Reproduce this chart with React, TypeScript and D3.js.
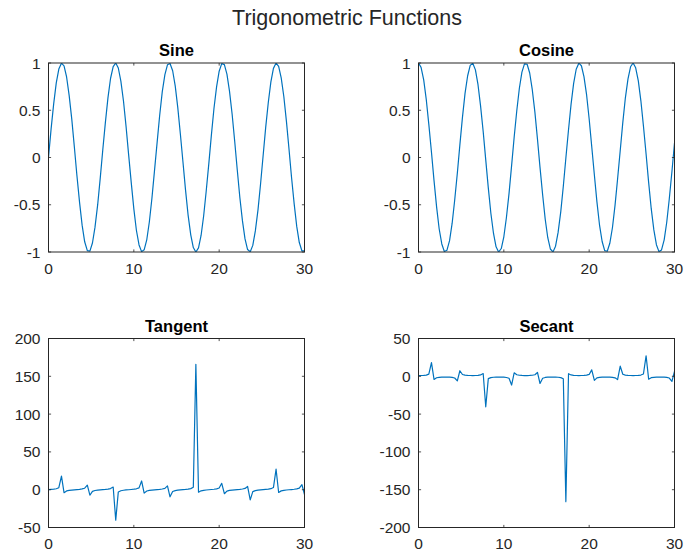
import React from "react";
import * as d3 from "d3";

const xValues = [
  0, 0.30, 0.61, 0.91, 1.21, 1.52, 1.82, 2.12, 2.42, 2.73,
  3.03, 3.33, 3.64, 3.94, 4.24, 4.55, 4.85, 5.15, 5.45, 5.76,
  6.06, 6.36, 6.67, 6.97, 7.27, 7.58, 7.88, 8.18, 8.48, 8.79,
  9.09, 9.39, 9.70, 10.00, 10.30, 10.61, 10.91, 11.21, 11.52, 11.82,
  12.12, 12.42, 12.73, 13.03, 13.33, 13.64, 13.94, 14.24, 14.55, 14.85,
  15.15, 15.45, 15.76, 16.06, 16.36, 16.67, 16.97, 17.27, 17.58, 17.88,
  18.18, 18.48, 18.79, 19.09, 19.39, 19.70, 20.00, 20.30, 20.61, 20.91,
  21.21, 21.52, 21.82, 22.12, 22.42, 22.73, 23.03, 23.33, 23.64, 23.94,
  24.24, 24.55, 24.85, 25.15, 25.45, 25.76, 26.06, 26.36, 26.67, 26.97,
  27.27, 27.58, 27.88, 28.18, 28.48, 28.79, 29.09, 29.39, 29.70, 30.00,
];

const sineValues = [
  0, 0.298, 0.570, 0.789, 0.936, 0.998, 0.970, 0.852, 0.657, 0.403,
  0.111, -0.191, -0.475, -0.716, -0.892, -0.986, -0.991, -0.905, -0.737, -0.502,
  -0.221, 0.080, 0.374, 0.634, 0.836, 0.962, 1.000, 0.947, 0.808, 0.595,
  0.328, 0.031, -0.269, -0.544, -0.770, -0.925, -0.996, -0.977, -0.868, -0.680,
  -0.431, -0.142, 0.160, 0.447, 0.694, 0.877, 0.981, 0.994, 0.918, 0.758,
  0.528, 0.251, -0.050, -0.345, -0.610, -0.818, -0.953, -1.000, -0.956, -0.825,
  -0.619, -0.357, -0.062, 0.239, 0.518, 0.750, 0.913, 0.993, 0.983, 0.883,
  0.703, 0.458, 0.172, -0.130, -0.420, -0.671, -0.862, -0.974, -0.997, -0.930,
  -0.777, -0.554, -0.280, 0.019, 0.316, 0.585, 0.800, 0.943, 0.999, 0.965,
  0.842, 0.643, 0.385, 0.092, -0.209, -0.491, -0.729, -0.900, -0.989, -0.988,
];

const cosineValues = [
  1.000, 0.954, 0.822, 0.614, 0.351, 0.056, -0.245, -0.523, -0.754, -0.915,
  -0.994, -0.982, -0.880, -0.698, -0.453, -0.166, 0.136, 0.425, 0.676, 0.865,
  0.975, 0.997, 0.927, 0.773, 0.549, 0.275, -0.025, -0.322, -0.590, -0.804,
  -0.945, -1.000, -0.963, -0.839, -0.638, -0.380, -0.086, 0.215, 0.497, 0.733,
  0.903, 0.990, 0.987, 0.894, 0.720, 0.480, 0.196, -0.105, -0.397, -0.653,
  -0.849, -0.968, -0.999, -0.938, -0.793, -0.575, -0.304, -0.006, 0.293, 0.565,
  0.785, 0.934, 0.998, 0.971, 0.855, 0.662, 0.408, 0.117, -0.185, -0.470,
  -0.712, -0.889, -0.985, -0.992, -0.908, -0.741, -0.507, -0.227, 0.074, 0.369,
  0.629, 0.832, 0.960, 1.000, 0.949, 0.811, 0.600, 0.333, 0.037, -0.263,
  -0.539, -0.766, -0.923, -0.996, -0.978, -0.871, -0.685, -0.436, -0.148, 0.154,
];

const tangentValues = [
  0, 0.31, 0.69, 1.28, 2.67, 17.95, -3.96, -1.63, -0.87, -0.44,
  -0.11, 0.19, 0.54, 1.03, 1.97, 5.93, -7.30, -2.13, -1.09, -0.58,
  -0.23, 0.08, 0.40, 0.82, 1.52, 3.50, -40.31, -2.94, -1.37, -0.74,
  -0.35, -0.03, 0.28, 0.65, 1.21, 2.44, 11.53, -4.55, -1.75, -0.93,
  -0.48, -0.14, 0.16, 0.50, 0.96, 1.83, 4.99, -9.47, -2.31, -1.16,
  -0.62, -0.26, 0.05, 0.37, 0.77, 1.42, 3.13, 165.77, -3.27, -1.46,
  -0.79, -0.38, -0.06, 0.25, 0.61, 1.13, 2.24, 8.48, -5.32, -1.88,
  -0.99, -0.52, -0.17, 0.13, 0.46, 0.91, 1.70, 4.30, -13.41, -2.52,
  -1.24, -0.67, -0.29, 0.02, 0.33, 0.72, 1.33, 2.83, 27.11, -3.67,
  -1.56, -0.84, -0.42, -0.09, 0.21, 0.56, 1.06, 2.06, 6.70, -6.41,
];

const secantValues = [
  1.00, 1.05, 1.22, 1.63, 2.85, 17.98, -4.08, -1.91, -1.33, -1.09,
  -1.01, -1.02, -1.14, -1.43, -2.21, -6.02, 7.37, 2.35, 1.48, 1.16,
  1.03, 1.00, 1.08, 1.29, 1.82, 3.64, -40.32, -3.11, -1.70, -1.24,
  -1.06, -1.00, -1.04, -1.19, -1.57, -2.63, -11.58, 4.65, 2.01, 1.36,
  1.11, 1.01, 1.01, 1.12, 1.39, 2.08, 5.09, -9.52, -2.52, -1.53,
  -1.18, -1.03, -1.00, -1.07, -1.26, -1.74, -3.29, -165.78, 3.42, 1.77,
  1.27, 1.07, 1.00, 1.03, 1.17, 1.51, 2.45, 8.54, -5.42, -2.13,
  -1.41, -1.13, -1.02, -1.01, -1.10, -1.35, -1.97, -4.41, 13.45, 2.71,
  1.59, 1.20, 1.04, 1.00, 1.05, 1.23, 1.67, 3.00, 27.13, -3.80,
  -1.86, -1.31, -1.08, -1.00, -1.02, -1.15, -1.46, -2.29, -6.77, 6.48,
];

const xTicks = [0, 10, 20, 30];
const trigTicks = [-1, -0.5, 0, 0.5, 1];
const tangentTicks = [-50, 0, 50, 100, 150, 200];
const secantTicks = [-200, -150, -100, -50, 0, 50];

const figureTitle = "Trigonometric Functions";
const panelTitles = ["Sine", "Cosine", "Tangent", "Secant"];

const W = 685;
const H = 552;
const AX = "#262626";
const LINE = "#0072BD";
const FONT = "'Liberation Sans', Arial, Helvetica, sans-serif";

type PanelSpec = {
  title: string;
  values: number[];
  yDomain: [number, number];
  yTicks: number[];
  left: number;
  top: number;
};

const PW = 256;
const PH = 189;

function Panel({ spec, idx }: { spec: PanelSpec; idx: number }) {
  const x = d3.scaleLinear().domain([0, 30]).range([spec.left, spec.left + PW]);
  const y = d3.scaleLinear().domain(spec.yDomain).range([spec.top + PH, spec.top]);
  const line = d3
    .line<number>()
    .x((_, i) => x(xValues[i]))
    .y((d) => y(d));
  const bottom = spec.top + PH;
  const right = spec.left + PW;
  const tl = 2.6;
  const clipId = `clip${idx}`;
  const fmt = (v: number) => String(v);
  return (
    <g>
      <defs>
        <clipPath id={clipId}>
          <rect x={spec.left} y={spec.top} width={PW} height={PH} />
        </clipPath>
      </defs>
      <rect x={spec.left} y={spec.top} width={PW} height={PH} fill="#fff" />
      <path
        d={line(spec.values) || ""}
        fill="none"
        stroke={LINE}
        strokeWidth={1.2}
        strokeLinejoin="round"
        clipPath={`url(#${clipId})`}
      />
      {xTicks.map((t) => (
        <g key={`xt${t}`}>
          <line x1={x(t)} x2={x(t)} y1={bottom} y2={bottom - tl} stroke={AX} strokeWidth={0.8} />
          <line x1={x(t)} x2={x(t)} y1={spec.top} y2={spec.top + tl} stroke={AX} strokeWidth={0.8} />
          <text
            x={x(t)}
            y={bottom + 21.5}
            textAnchor="middle"
            fontSize={15.5}
            fill={AX}
            fontFamily={FONT}
          >
            {fmt(t)}
          </text>
        </g>
      ))}
      {spec.yTicks.map((t) => (
        <g key={`yt${t}`}>
          <line x1={spec.left} x2={spec.left + tl} y1={y(t)} y2={y(t)} stroke={AX} strokeWidth={0.8} />
          <line x1={right} x2={right - tl} y1={y(t)} y2={y(t)} stroke={AX} strokeWidth={0.8} />
          <text
            x={spec.left - 8}
            y={y(t)}
            dy="0.36em"
            textAnchor="end"
            fontSize={15.5}
            fill={AX}
            fontFamily={FONT}
          >
            {fmt(t)}
          </text>
        </g>
      ))}
      <rect
        x={spec.left}
        y={spec.top}
        width={PW}
        height={PH}
        fill="none"
        stroke={AX}
        strokeWidth={1}
      />
      <text
        x={spec.left + PW / 2}
        y={spec.top - 7}
        textAnchor="middle"
        fontSize={16.5}
        fontWeight="bold"
        fill="#000"
        fontFamily={FONT}
      >
        {spec.title}
      </text>
    </g>
  );
}

export default function App() {
  const specs: PanelSpec[] = [
    { title: panelTitles[0], values: sineValues, yDomain: [-1, 1], yTicks: trigTicks, left: 48.5, top: 63 },
    { title: panelTitles[1], values: cosineValues, yDomain: [-1, 1], yTicks: trigTicks, left: 418.5, top: 63 },
    { title: panelTitles[2], values: tangentValues, yDomain: [-50, 200], yTicks: tangentTicks, left: 48.5, top: 338.5 },
    { title: panelTitles[3], values: secantValues, yDomain: [-200, 50], yTicks: secantTicks, left: 418.5, top: 338.5 },
  ];
  return (
    <div style={{ position: "fixed", left: 0, top: 0, width: W, height: H, background: "#fff" }}>
      <svg width={W} height={H} viewBox={`0 0 ${W} ${H}`} style={{ display: "block" }}>
        <rect x={0} y={0} width={W} height={H} fill="#fff" />
        <text
          x={347}
          y={25}
          textAnchor="middle"
          fontSize={21.5}
          fill={AX}
          fontFamily={FONT}
        >
          {figureTitle}
        </text>
        {specs.map((s, i) => (
          <Panel key={s.title} spec={s} idx={i} />
        ))}
      </svg>
    </div>
  );
}
